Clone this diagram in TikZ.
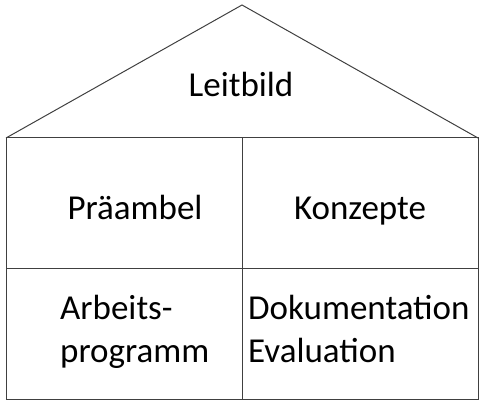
\documentclass[tikz,border=0pt]{standalone}
\usepackage{fontspec}
\setmainfont{Carlito}
\usetikzlibrary{positioning}
\tikzset{
  wall/.style={draw=black!75, line width=1pt},
  word/.style={inner sep=0, font=\fontsize{35}{43}\selectfont, text=black}
}

\begin{document}
\begin{tikzpicture}[x=1pt,y=1pt]
    \useasboundingbox (0,0) rectangle (486,406);

    % corners of the house
    \coordinate (top) at (242,401);
    \coordinate (eaveL) at (6,268);
    \coordinate (eaveR) at (478,268);
    \coordinate (baseL) at (6,7);
    \coordinate (baseR) at (478,7);
    \coordinate (midL) at (6,137);
    \coordinate (midR) at (478,137);
    \coordinate (ridgeB) at (242,268);
    \coordinate (floorB) at (242,7);

    \draw [wall] (eaveL) -- (top) -- (eaveR);
    \draw [wall] (eaveL) rectangle (baseR);
    \draw [wall] (midL) -- (midR);
    \draw [wall] (ridgeB) -- (floorB);

    \node [word, anchor=base] (roof) at (241,309) {Leitbild};
    \node [word, anchor=base] (pre) at (135,186) {Präambel};
    \node [word, anchor=base] (kon) at (360,186) {Konzepte};
    \node [word, anchor=base west] (arb) at (60,86) {Arbeits-};
    \node [word, anchor=base west] (prog) at (60,43) {programm};
    \node [word, anchor=base west] (dok) at (248,86) {Dokumentation};
    \node [word, anchor=base west] (eva) at (248,43) {Evaluation};
\end{tikzpicture}
\end{document}
